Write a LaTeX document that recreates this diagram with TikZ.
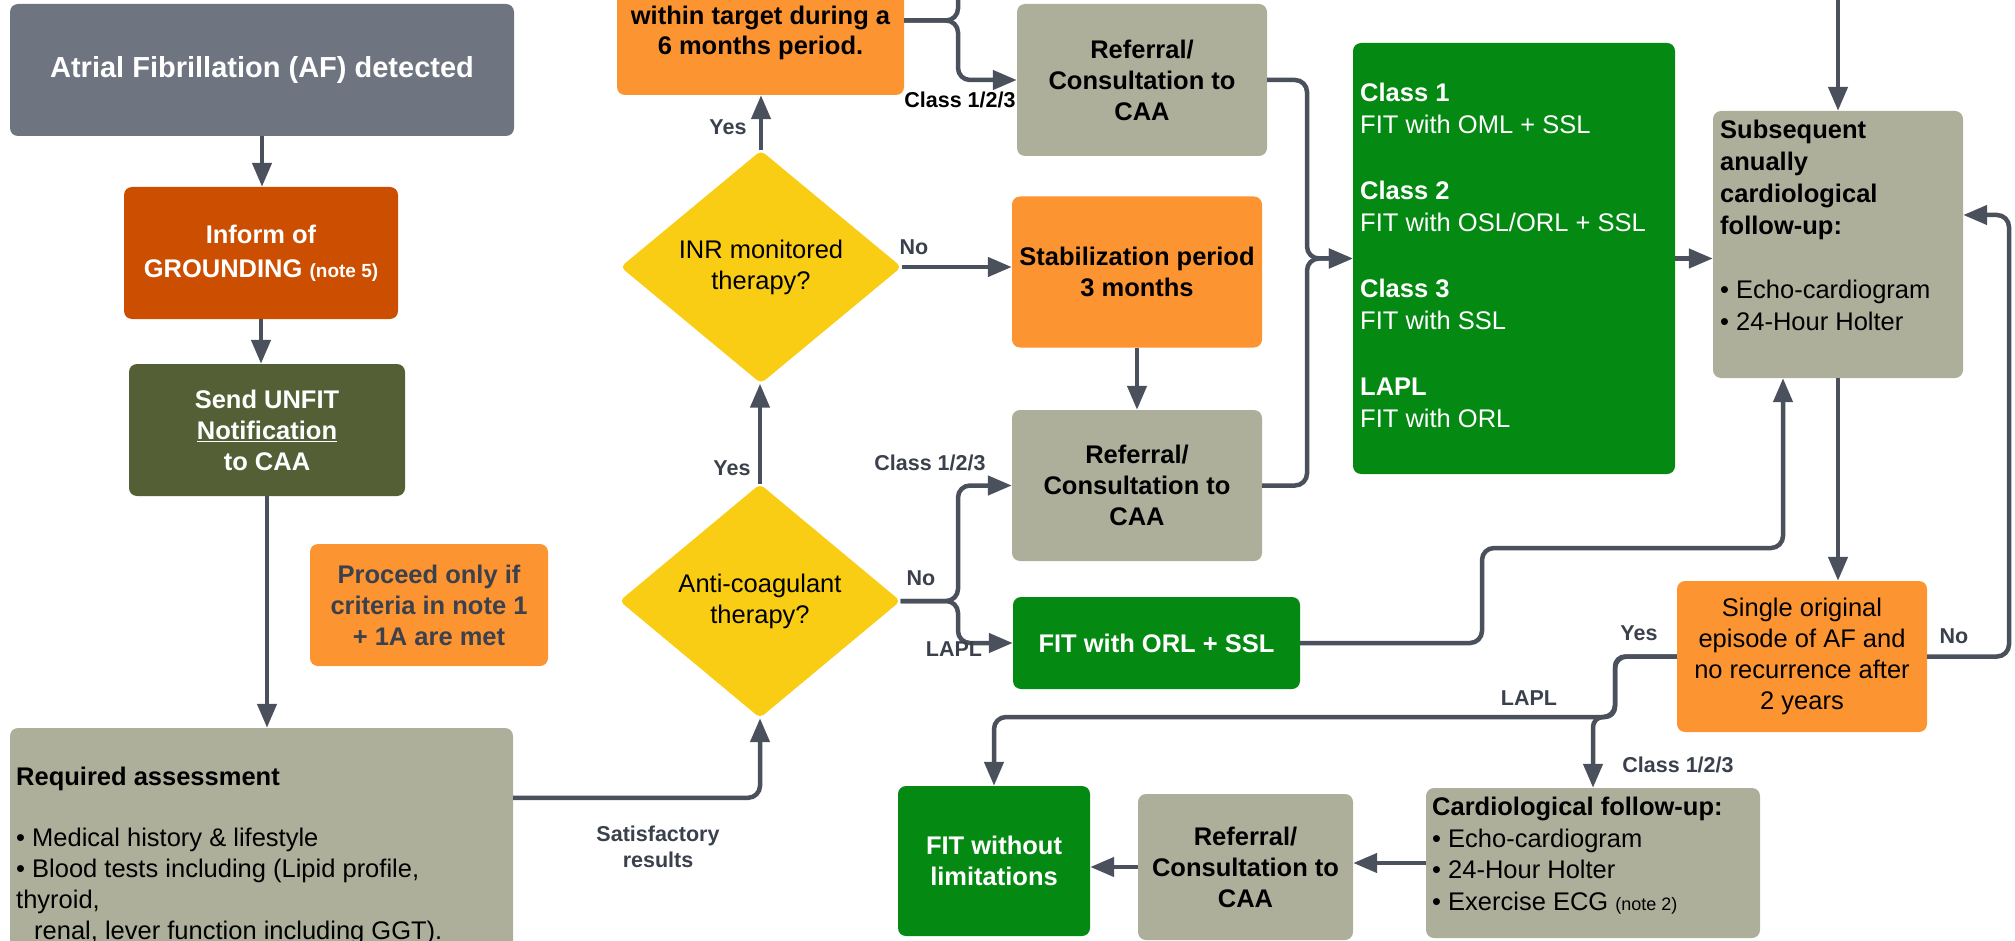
\documentclass[tikz,border=0pt]{standalone}
\usepackage{fontspec}
\setmainfont{Liberation Sans}
\usetikzlibrary{arrows.meta,shapes.geometric}
\definecolor{slate}{HTML}{6E7480}
\definecolor{rust}{HTML}{CC4E00}
\definecolor{olive}{HTML}{545F36}
\definecolor{amber}{HTML}{FC9432}
\definecolor{sage}{HTML}{ADAF9B}
\definecolor{gold}{HTML}{FACD15}
\definecolor{leaf}{HTML}{048A13}
\definecolor{wirec}{HTML}{4B515C}
\definecolor{ink}{HTML}{3B414C}
\tikzset{
	box/.style={rectangle,rounded corners=8pt,inner sep=3pt,align=center,font=\fontsize{25.5}{31}\selectfont},
	hbox/.style={box,font=\bfseries\fontsize{25.5}{31}\selectfont},
	dmd/.style={diamond,fill=gold,rounded corners=5pt,inner sep=0pt,align=center,font=\fontsize{25.5}{31}\selectfont},
	txt/.style={anchor=north west,inner sep=0pt,align=left,font=\fontsize{25.5}{31}\selectfont},
	link/.style={draw=wirec,line width=4.5pt,rounded corners=12pt},
	flow/.style={link,-{Triangle[length=24pt,width=19pt]}},
	lbl/.style={text=ink,font=\bfseries\fontsize{21.5}{26}\selectfont,align=center},
}
\begin{document}
\begin{tikzpicture}[x=1pt,y=-1pt]
	\useasboundingbox (0,0) rectangle (2015,941);
	\clip (0,0) rectangle (2015,941);
	% left column
	\node[box,fill=slate,text=white,minimum width=504pt,minimum height=132pt,font=\bfseries\fontsize{29}{35}\selectfont] (af) at (262,70) {Atrial Fibrillation (AF) detected};
	\node[hbox,fill=rust,text=white,minimum width=274pt,minimum height=132pt,font=\bfseries\fontsize{25.5}{34}\selectfont] (grd) at (261,253) {Inform of\\GROUNDING {\fontsize{19}{34}\selectfont(note 5)}};
	\node[hbox,fill=olive,text=white,minimum width=276pt,minimum height=132pt] (unfit) at (267,430) {Send UNFIT\\\underline{Notification}\\to CAA};
	\node[hbox,fill=amber,text=ink,minimum width=238pt,minimum height=122pt] (note) at (429,605) {Proceed only if\\criteria in note 1\\+ 1A are met};
	\node[box,fill=sage,minimum width=503pt,minimum height=250pt] (assess) at (261.5,853) {};
	\node[txt] (assesstxt) at (16,767) {\textbf{Required assessment}\\[30pt]
		• Medical history \& lifestyle\\
		• Blood tests including (Lipid profile,\\
		thyroid,\\
		\hspace*{18pt}renal, lever function including GGT).};
	% decisions
	\node[hbox,fill=amber,minimum width=287pt,minimum height=125pt,font=\bfseries\fontsize{25.5}{30}\selectfont] (target) at (760.5,32.5) {within target during a\\6 months period.};
	\node[dmd,minimum width=281pt,minimum height=233pt] (inr) at (761,267) {INR monitored\\therapy?};
	\node[dmd,minimum width=281pt,minimum height=234pt] (anti) at (760,601) {Anti-coagulant\\therapy?};
	% middle column
	\node[hbox,fill=sage,minimum width=250pt,minimum height=152pt] (ref1) at (1142,80) {Referral/\\Consultation to\\CAA};
	\node[hbox,fill=amber,minimum width=250pt,minimum height=151pt] (stab) at (1137,272) {Stabilization period\\3 months};
	\node[hbox,fill=sage,minimum width=250pt,minimum height=151pt] (ref2) at (1137,485.5) {Referral/\\Consultation to\\CAA};
	\node[hbox,fill=leaf,text=white,minimum width=287pt,minimum height=92pt] (orl) at (1156.5,643) {FIT with ORL + SSL};
	\node[box,fill=leaf,minimum width=322pt,minimum height=431pt] (cls) at (1514,258.5) {};
	\node[txt,text=white,font=\fontsize{25.5}{32}\selectfont] (clstxt) at (1360,83) {\textbf{Class 1}\\FIT with OML + SSL\\[34pt]
		\textbf{Class 2}\\FIT with OSL/ORL + SSL\\[34pt]
		\textbf{Class 3}\\FIT with SSL\\[34pt]
		\textbf{LAPL}\\FIT with ORL};
	% right column
	\node[box,fill=sage,minimum width=250pt,minimum height=267pt] (subs) at (1838,244.5) {};
	\node[txt,font=\fontsize{25.5}{32}\selectfont] (substxt) at (1720,120) {\textbf{Subsequent}\\\textbf{anually}\\\textbf{cardiological}\\\textbf{follow-up:}\\[32pt]
		• Echo-cardiogram\\• 24-Hour Holter};
	\node[box,fill=amber,minimum width=250pt,minimum height=151pt] (single) at (1802,656.5) {Single original\\episode of AF and\\no recurrence after\\2 years};
	\node[box,fill=sage,minimum width=334pt,minimum height=150pt] (cardio) at (1593,863) {};
	\node[txt,font=\fontsize{25.5}{31.5}\selectfont] (cardiotxt) at (1432,797) {\textbf{Cardiological follow-up:}\\• Echo-cardiogram\\• 24-Hour Holter\\• Exercise ECG {\fontsize{18}{31}\selectfont(note 2)}};
	\node[hbox,fill=sage,minimum width=215pt,minimum height=146pt] (ref3) at (1245.5,867) {Referral/\\Consultation to\\CAA};
	\node[hbox,fill=leaf,text=white,minimum width=192pt,minimum height=150pt] (fit) at (994,861) {FIT without\\limitations};
	% junctions
	\coordinate (j1) at (958,50);
	\coordinate (topin) at (958,-30);
	\coordinate (j2) at (958,601);
	\coordinate (j3) at (1307,258.5);
	\coordinate (subsin) at (1838,-30);
	\coordinate (j4) at (1482,548);
	\coordinate (j5) at (2009,656.5);
	\coordinate (j6) at (1615,717);
	% connectors
	\draw[flow] (af.south) -- (af.south |- grd.north);
	\draw[flow] (grd.south) -- (grd.south |- unfit.north);
	\draw[flow] (unfit.south) -- (unfit.south |- assess.north);
	\draw[flow] ([yshift=-70pt]assess.north east) -| (anti.south);
	\draw[flow] (anti.north) -- (anti.north |- inr.south);
	\draw[flow] (inr.north) -- (inr.north |- target.south);
	\draw[link] ([yshift=12pt]target.east) -| (topin);
	\draw[flow] ([yshift=12pt]target.east) -| (j1) |- (ref1.west);
	\draw[flow] (inr.east) -- (inr.east -| stab.west);
	\draw[flow] (stab.south) -- (ref2.north);
	\draw[flow] (anti.east) -- (j2) |- (ref2.west);
	\draw[flow] (anti.east) -- (j2) |- (orl.west);
	\draw[flow] (ref1.east) -| (j3) -- (cls.west);
	\draw[flow] (ref2.east) -| (j3) -- (cls.west);
	\draw[flow] (cls.east) -- (cls.east -| subs.west);
	\draw[flow] (subsin) -- (subs.north);
	\draw[flow] (orl.east) -| (j4) -| ([xshift=-55pt]subs.south);
	\draw[flow] (subs.south) -- (subs.south |- single.north);
	\draw[flow] (single.east) -- (j5) |- ([yshift=29.5pt]subs.east);
	\draw[flow] (single.west) -| (j6) -| (fit.north);
	\draw[flow,rounded corners=10pt] (single.west) -| (j6) -| (cardio.north);
	\draw[flow] (cardio.west) -- (cardio.west -| ref3.east);
	\draw[flow] (ref3.west) -- (ref3.west -| fit.east);
	% labels
	\node[lbl,text=black] (l1) at (960,100) {Class 1/2/3};
	\node[lbl] (l2) at (728,127) {Yes};
	\node[lbl] (l3) at (914,247) {No};
	\node[lbl] (l4) at (732,468) {Yes};
	\node[lbl] (l5) at (930,463) {Class 1/2/3};
	\node[lbl] (l6) at (921,578) {No};
	\node[lbl] (l7) at (954,649) {LAPL};
	\node[lbl] (l8) at (658,847) {Satisfactory\\results};
	\node[lbl] (l9) at (1639,633) {Yes};
	\node[lbl] (l10) at (1954,636) {No};
	\node[lbl] (l11) at (1529,698) {LAPL};
	\node[lbl] (l12) at (1678,765) {Class 1/2/3};
\end{tikzpicture}
\end{document}
